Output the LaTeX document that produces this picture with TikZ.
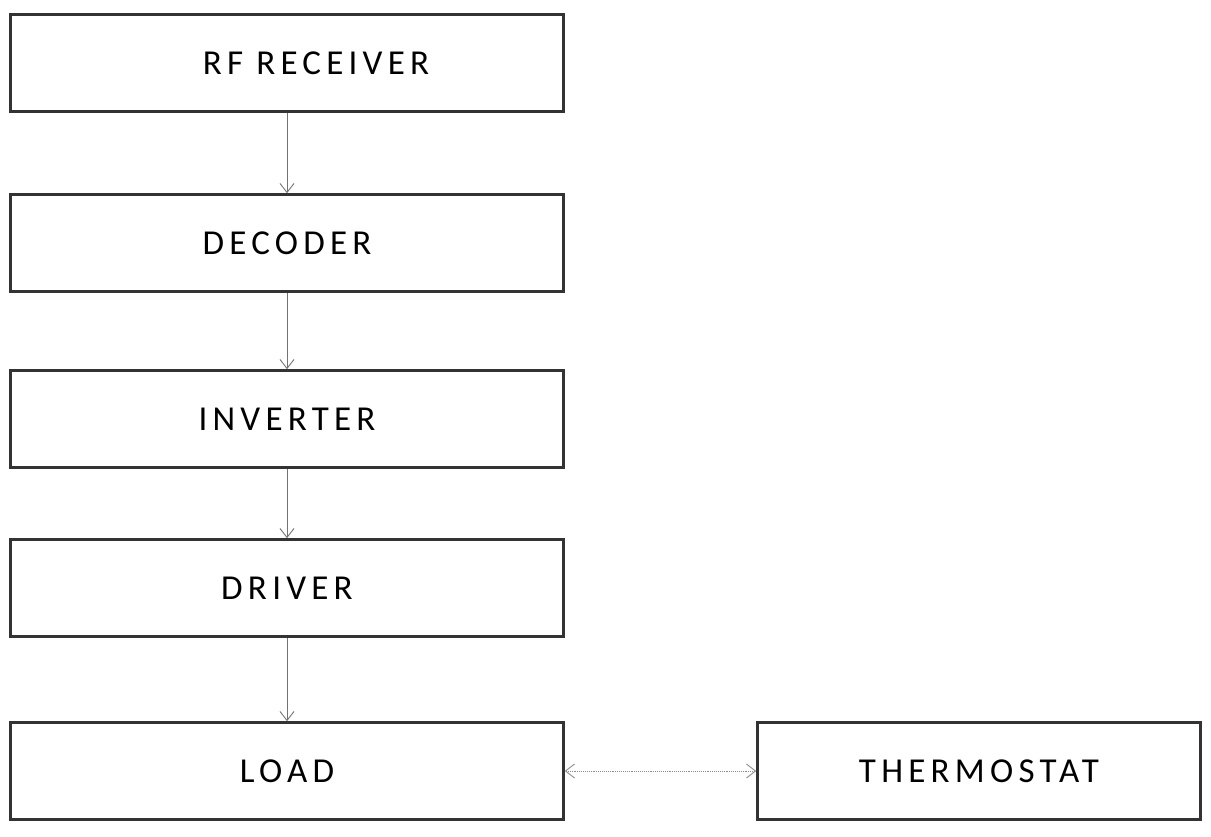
\documentclass[tikz,border=0pt]{standalone}
\usepackage{fontspec}
\setmainfont{Carlito}[LetterSpace=15]
\usetikzlibrary{arrows.meta}
\begin{document}
\begin{tikzpicture}[x=1pt,y=-1pt,
  blk/.style={draw=black!80, line width=2.6pt, rectangle, inner sep=0pt,
    minimum width=553pt, minimum height=97pt, font=\fontsize{35}{40}\selectfont},
  conn/.style={draw=black!55, line width=0.9pt, -{Straight Barb[length=9pt,width=14pt]}},
  link/.style={draw=black!45, line width=0.9pt, densely dotted, {Straight Barb[length=9pt,width=14pt]}-{Straight Barb[length=9pt,width=14pt]}}]
\useasboundingbox (0,0) rectangle (1211,836);
\node[blk] (rf) at (287,63) {\hspace*{58pt}RF RECEIVER};
\node[blk] (dec) at (287,243) {DECODER};
\node[blk] (inv) at (287,419) {INVERTER};
\node[blk] (drv) at (287,588) {DRIVER};
\node[blk] (load) at (287,771) {LOAD};
\node[blk, minimum width=443pt] (th) at (979,771) {THERMOSTAT};
\draw[conn] (rf) -- (dec);
\draw[conn] (dec) -- (inv);
\draw[conn] (inv) -- (drv);
\draw[conn] (drv) -- (load);
\draw[link] (load) -- (th);
\end{tikzpicture}
\end{document}
